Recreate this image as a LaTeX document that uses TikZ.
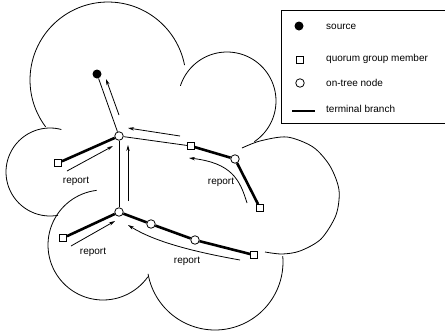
\documentclass[tikz,border=0pt]{standalone}
\usepackage{fontspec}
\setmainfont{Liberation Sans}
\usetikzlibrary{arrows.meta}
\begin{document}
\begin{tikzpicture}[x=1pt,y=-1pt,
  cloudln/.style={line width=0.8pt},
  thinln/.style={line width=0.8pt},
  thickln/.style={line width=2.6pt},
  arrln/.style={line width=0.8pt,-{Stealth[length=6pt,width=3.4pt]}},
  tnode/.style={circle,draw,fill=white,line width=0.8pt,inner sep=0pt,minimum size=8.5pt},
  qnode/.style={rectangle,draw,fill=white,line width=0.8pt,inner sep=0pt,minimum size=7pt},
  snode/.style={circle,fill=black,inner sep=0pt,minimum size=9pt},
  lbl/.style={font=\fontsize{10}{12}\selectfont,inner sep=0pt},
  legtxt/.style={font=\fontsize{10}{12}\selectfont,inner sep=0pt,anchor=west}]
\useasboundingbox (0,0) rectangle (445,333);

% cloud outline
\draw[cloudln] plot[domain=11:217,samples=70] ({108+78*cos(\x)},{80-78*sin(\x)});
\draw[cloudln] plot[domain=-56:162,samples=70] ({227+49*cos(\x)},{101-49*sin(\x)});
\draw[cloudln] plot[smooth] coordinates {(242,148) (260,141) (287,137) (313,147) (330,166) (339,190) (336,215) (321,239) (300,251) (282,254) (265,252)};
\draw[cloudln] plot[domain=75:280.5,samples=60] ({50+44*cos(\x)},{172-44*sin(\x)});
\draw[cloudln] plot[domain=96.6:324.6,samples=60] ({103+55*cos(\x)},{245-55*sin(\x)});
\draw[cloudln] plot[domain=190:365,samples=60] ({215+68*cos(\x)},{262-68*sin(\x)});

% nodes
\node[snode] (S) at (97,74) {};
\node[tnode] (A) at (119,136) {};
\node[qnode] (Q1) at (58,163) {};
\node[qnode] (Q2) at (191,146) {};
\node[tnode] (B) at (235,159) {};
\node[qnode] (Q3) at (260,208) {};
\node[tnode] (C) at (119,212) {};
\node[qnode] (Q4) at (63,238) {};
\node[tnode] (D) at (151,224) {};
\node[tnode] (E) at (195,240) {};
\node[qnode] (Q5) at (254,255) {};

% tree edges
\draw[thinln] (A) -- (S);
\draw[thinln] (A) -- (Q2);
\draw[thinln] (A) -- (C);
\draw[thickln] (A) -- (Q1);
\draw[thickln] (Q2) -- (B);
\draw[thickln] (B) -- (Q3);
\draw[thickln] (C) -- (Q4);
\draw[thickln] (C) -- (D);
\draw[thickln] (D) -- (E);
\draw[thickln] (E) -- (Q5);

% report arrows
\coordinate (a1s) at (119,115); \coordinate (a1e) at (106,79);
\coordinate (a2s) at (180,136); \coordinate (a2e) at (128,128);
\coordinate (a3s) at (67,171);  \coordinate (a3e) at (113,146);
\coordinate (a4s) at (128,201); \coordinate (a4e) at (128,145);
\coordinate (a5s) at (247,203); \coordinate (a5e) at (189,158);
\coordinate (a6s) at (71,246);  \coordinate (a6e) at (115,221);
\coordinate (a7s) at (240,260); \coordinate (a7e) at (128,225);
\draw[arrln] (a1s) -- (a1e);
\draw[arrln] (a2s) -- (a2e);
\draw[arrln] (a3s) -- (a3e);
\draw[arrln] (a4s) -- (a4e);
\draw[arrln] (a5s) .. controls (240,180) and (232,163) .. (a5e);
\draw[arrln] (a6s) -- (a6e);
\draw[arrln] (a7s) .. controls (195,252) and (155,242) .. (a7e);

% labels
\node[lbl] (r1) at (76,181) {report};
\node[lbl] (r2) at (93,252) {report};
\node[lbl] (r3) at (221,182) {report};
\node[lbl] (r4) at (187,261) {report};

% legend
\coordinate (lbTL) at (281,10);
\coordinate (lbBL) at (281,123);
\coordinate (lbTR) at (446,10);
\coordinate (lbBR) at (446,123);
\draw[thinln] (lbTR) -- (lbTL) -- (lbBL) -- (lbBR);
\node[snode] (ls) at (299,26) {};
\node[qnode] (lq) at (300,60) {};
\node[tnode] (lt) at (300,83) {};
\coordinate (lb1) at (292,111);
\coordinate (lb2) at (315,111);
\draw[line width=2.2pt] (lb1) -- (lb2);
\node[legtxt] (t1) at (326,27) {source};
\node[legtxt] (t2) at (326,59) {quorum group member};
\node[legtxt] (t3) at (326,83) {on-tree node};
\node[legtxt] (t4) at (326,109) {terminal branch};
\end{tikzpicture}
\end{document}
